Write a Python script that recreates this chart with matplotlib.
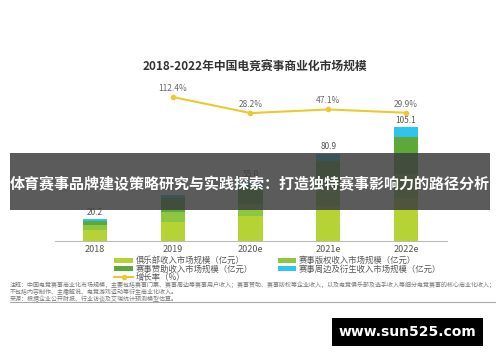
import matplotlib
matplotlib.use("Agg")
import matplotlib.pyplot as plt
import numpy as np

plt.rcParams['font.family'] = ['Noto Sans CJK SC', 'DejaVu Sans']

years = ["2018", "2019", "2020e", "2021e", "2022e"]
club = [10.5, 17.5, 23.0, 32.0, 40.0]
copyright_ = [4.5, 9.5, 11.0, 16.0, 22.0]
sponsor = [3.6, 12.5, 16.0, 26.0, 34.0]
periphery = [1.6, 3.4, 5.0, 6.9, 9.1]
totals = ["20.2", "42.9", "55.0", "80.9", "105.1"]
growth = [112.4, 28.2, 47.1, 29.9]
growth_labels = ["112.4%", "28.2%", "47.1%", "29.9%"]

series_names = ["俱乐部收入市场规模（亿元）", "赛事版权收入市场规模（亿元）",
                "赛事赞助收入市场规模（亿元）", "赛事周边及衍生收入市场规模（亿元）"]
colors = ["#b5d334", "#8dc641", "#5ea83a", "#2ec4ec"]

fig = plt.figure(figsize=(5.0, 3.62), dpi=100)
fig.patch.set_facecolor("white")
ax = fig.add_axes([0.11, 0.334, 0.784, 0.445])

x = np.arange(len(years))
bottom = np.zeros(len(years))
handles = []
for vals, c, name in zip([club, copyright_, sponsor, periphery], colors, series_names):
    h = ax.bar(x, vals, 0.31, bottom=bottom, color=c, label=name, zorder=2)
    handles.append(h)
    bottom += np.array(vals)

for xi, top, lab in zip(x, bottom, totals):
    ax.text(xi, top + 2.5, lab, ha="center", va="bottom", fontsize=6, color="#555555")

ax.set_xlim(-0.514, 4.527)
ax.set_ylim(0, 149)
for s in ["top", "right", "left"]:
    ax.spines[s].set_visible(False)
ax.spines["bottom"].set_color("#bbbbbb")
ax.set_yticks([])
ax.set_xticks(x)
ax.set_xticklabels(years, fontsize=6.5, color="#555555")
ax.tick_params(axis="x", length=0, pad=3)

ax2 = ax.twinx()
ax2.set_ylim(-645, 202)
ax2.axis("off")
line, = ax2.plot(x[1:], growth, color="#ecc92e", lw=1.5, marker="o", ms=3, label="增长率（%）", zorder=3)
for xi, g, lab in zip(x[1:], growth, growth_labels):
    ax2.text(xi, g + 22, lab, ha="center", va="bottom", fontsize=6, color="#666666")

fig.text(0.51, 0.813, "2018-2022年中国电竞赛事商业化市场规模", ha="center", va="center",
         fontsize=8.5, fontweight="bold", color="#333333")

leg = fig.legend([handles[0], handles[2], line, handles[1], handles[3]],
                 [series_names[0], series_names[2], "增长率（%）", series_names[1], series_names[3]],
                 ncol=2, loc="upper left", bbox_to_anchor=(0.222, 0.302), frameon=False,
                 fontsize=6, handlelength=2.2, handleheight=0.55, labelspacing=-0.05,
                 columnspacing=3.0, handletextpad=0.35, borderaxespad=0)
for t in leg.get_texts():
    t.set_color("#555555")

notes = ["注释：中国电竞赛事商业化市场规模，主要包括赛事门票、赛事周边等赛事用户收入；赛事赞助、赛事版权等企业收入，以及电竞俱乐部及选手收入等细分电竞赛事的核心商业化收入；",
         "不包括内容制作、主播解说、电竞游戏运动等衍生商业化收入。",
         "来源：根据企业公开财报、行业访谈及艾瑞统计预测模型估算。"]
for i, n in enumerate(notes):
    fig.text(0.02, 0.213 - i * 0.019, n, fontsize=4.3, color="#777777", va="center")
fig.add_artist(plt.Line2D([0.02, 0.99], [0.165, 0.165], color="#aaaaaa", lw=0.8))

fig.patches.append(plt.Rectangle((0.02, 0.42), 0.96, 0.157, transform=fig.transFigure,
                                 facecolor="#3e3e3e", alpha=0.85, zorder=10))
fig.text(0.5, 0.49, "体育赛事品牌建设策略研究与实践探索：打造独特赛事影响力的路径分析",
         ha="center", va="center", fontsize=10.8, fontweight="bold", color="white", zorder=11)

fig.text(0.815, 0.083, "www.sun525.com", ha="center", va="center", fontsize=10,
         fontweight="bold", color="white", family=["DejaVu Sans"],
         bbox=dict(boxstyle="square,pad=0.5", facecolor="black", edgecolor="none"), zorder=11)

fig.savefig("out.png", dpi=100)
